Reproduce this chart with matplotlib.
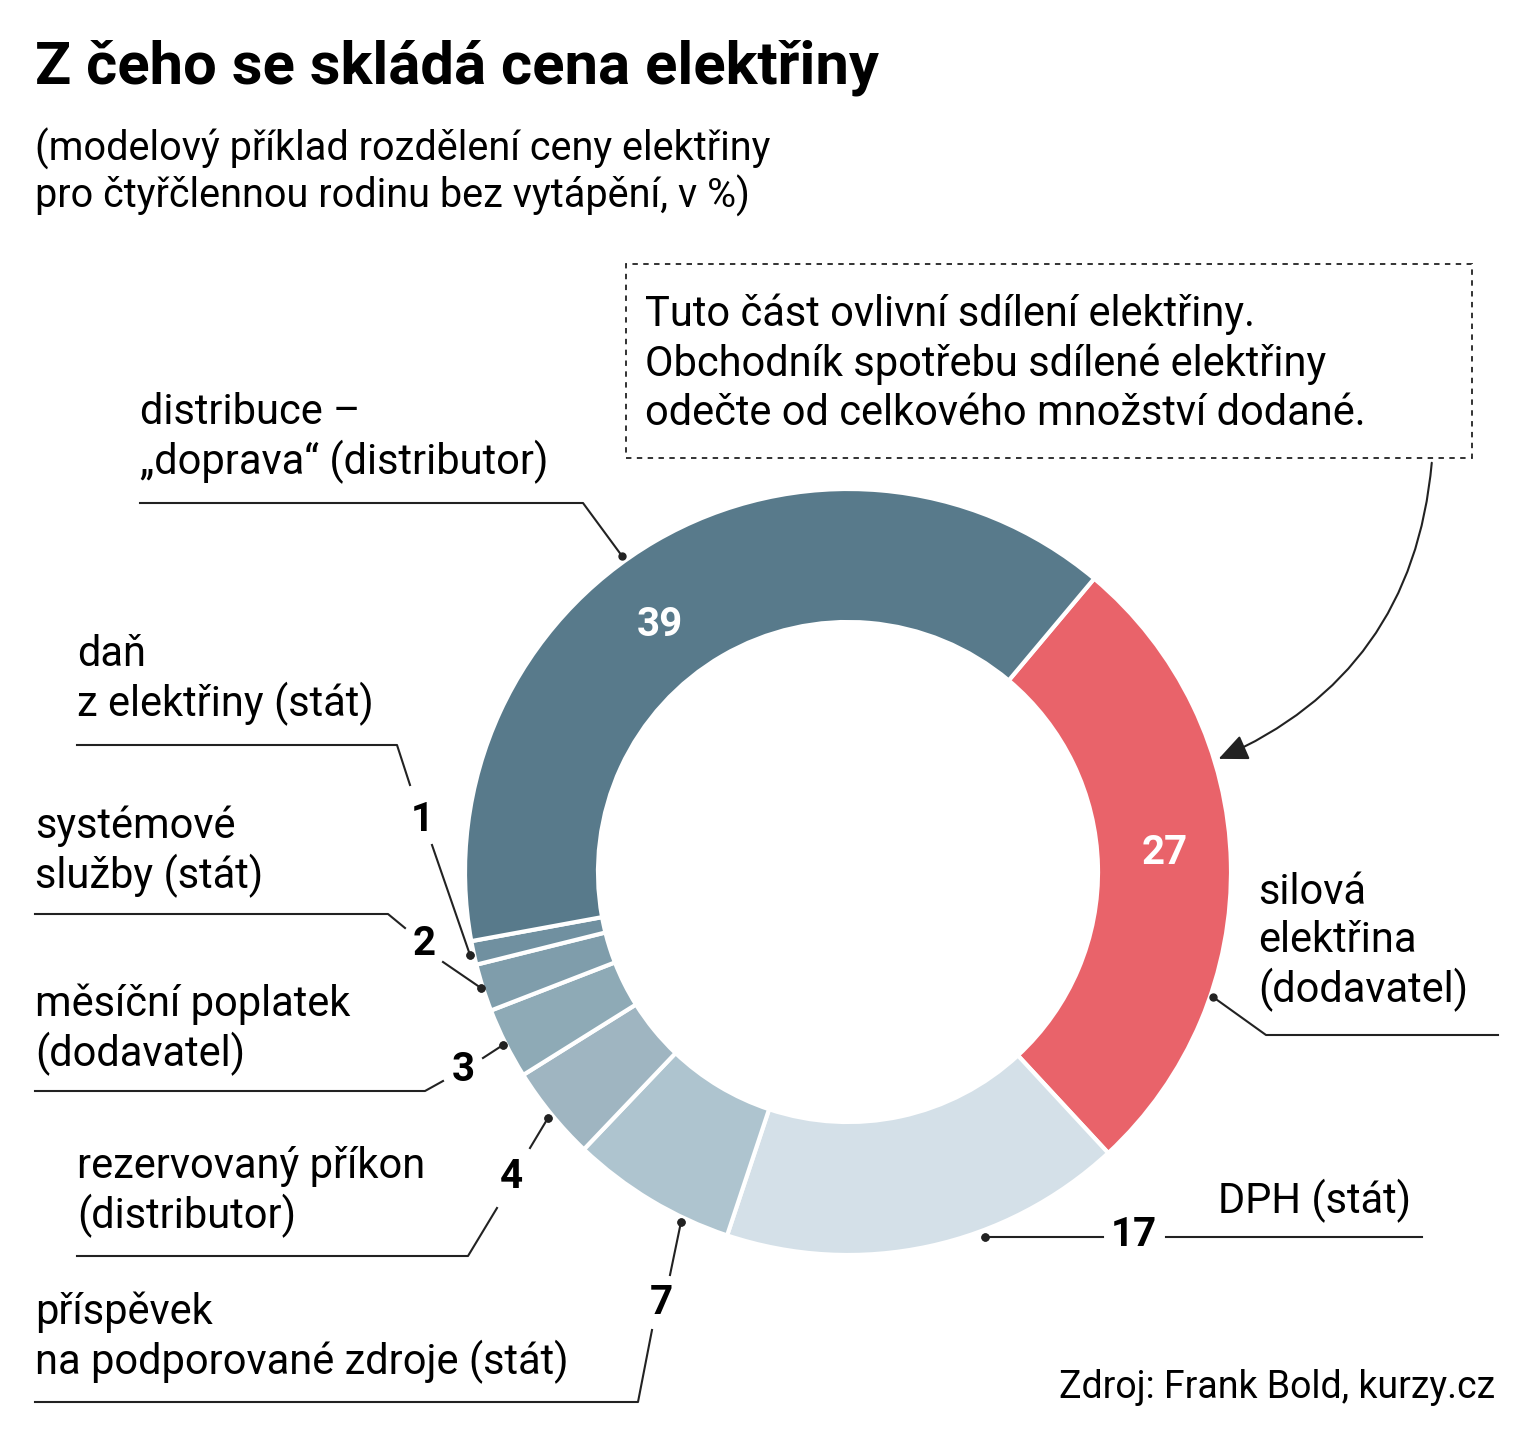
import matplotlib.pyplot as plt
from matplotlib.patches import FancyArrowPatch

plt.rcParams['font.family'] = ['Roboto', 'DejaVu Sans']

labels = ['silová elektřina', 'DPH', 'příspěvek na podporované zdroje',
          'rezervovaný příkon', 'měsíční poplatek', 'systémové služby',
          'daň z elektřiny', 'distribuce']
values = [27, 17, 7, 4, 3, 2, 1, 39]
colors = ['#e9636a', '#d4e0e8', '#aec4cf', '#9fb5c1', '#8eaab6',
          '#7f9dab', '#7090a0', '#587a8b']

W, H = 1536, 1443
fig = plt.figure(figsize=(W / 100, H / 100), dpi=100)
ax = fig.add_axes([0, 0, 1, 1])


def Y(y):
    return H - y


cx, cy, R = 848, 872, 383
ax.pie(values, colors=colors, startangle=50, counterclock=False,
       center=(cx, Y(cy)), radius=R, frame=True,
       wedgeprops=dict(width=133, edgecolor='white', linewidth=3))
ax.set_xlim(0, W)
ax.set_ylim(0, H)
ax.set_aspect('equal')
ax.axis('off')

ax.text(35, Y(68), 'Z čeho se skládá cena elektřiny', fontsize=43,
        fontweight='bold', va='center', ha='left')
ax.text(35, Y(172), '(modelový příklad rozdělení ceny elektřiny\n'
        'pro čtyřčlennou rodinu bez vytápění, v %)', fontsize=28.5,
        va='center', ha='left', linespacing=1.15)

# inner value labels
ax.text(660, Y(625), str(values[7]), fontsize=29, fontweight='bold',
        color='white', ha='center', va='center')
ax.text(1165, Y(853), str(values[0]), fontsize=29, fontweight='bold',
        color='white', ha='center', va='center')

body = dict(fontsize=30, va='center', ha='left', linespacing=1.2)
num = dict(fontsize=29, fontweight='bold', ha='center', va='center')


def leader(points, dot):
    xs = [p[0] for p in points]
    ys = [Y(p[1]) for p in points]
    ax.plot(xs, ys, color='#222222', lw=1.5)
    ax.plot(dot[0], Y(dot[1]), 'o', color='#222222', ms=5)


# distribuce
ax.text(140, Y(438), 'distribuce –\n„doprava“ (distributor)', **body)
leader([(140, 503), (583, 503), (622, 556)], (622, 556))
# dan
ax.text(77, Y(680), 'daň\nz elektřiny (stát)', **body)
leader([(77, 745), (397, 745), (410, 785)], (470, 955))
ax.text(422, Y(820), str(values[6]), **num)
leader([(432, 845), (470, 955)], (470, 955))
# systemove
ax.text(35, Y(852), 'systémové\nslužby (stát)', **body)
leader([(35, 914), (388, 914), (405, 928)], (481, 988))
ax.text(424, Y(944), str(values[5]), **num)
leader([(443, 962), (481, 988)], (481, 988))
# mesicni
ax.text(35, Y(1030), 'měsíční poplatek\n(dodavatel)', **body)
leader([(35, 1091), (425, 1091), (443, 1081)], (503, 1045))
ax.text(463, Y(1070), str(values[4]), **num)
leader([(483, 1058), (503, 1045)], (503, 1045))
# rezervovany
ax.text(77, Y(1192), 'rezervovaný příkon\n(distributor)', **body)
leader([(77, 1256), (468, 1256), (497, 1208)], (548, 1118))
ax.text(511, Y(1177), str(values[3]), **num)
leader([(530, 1148), (548, 1118)], (548, 1118))
# prispevek
ax.text(35, Y(1338), 'příspěvek\nna podporované zdroje (stát)', **body)
leader([(35, 1402), (638, 1402), (652, 1330)], (681, 1222))
ax.text(661, Y(1303), str(values[2]), **num)
leader([(670, 1275), (681, 1222)], (681, 1222))
# DPH
ax.text(1218, Y(1201), 'DPH (stát)', **body)
leader([(985, 1237), (1103, 1237)], (985, 1237))
ax.text(1134, Y(1235), str(values[1]), **num)
leader([(1166, 1237), (1422, 1237)], (985, 1237))
# silova
ax.text(1258, Y(942), 'silová\nelektřina\n(dodavatel)', **body)
leader([(1213, 997), (1266, 1035), (1498, 1035)], (1213, 997))

# note box
ax.text(645, Y(364), 'Tuto část ovlivní sdílení elektřiny.\n'
        'Obchodník spotřebu sdílené elektřiny\n'
        'odečte od celkového množství dodané.', fontsize=30,
        va='center', ha='left', linespacing=1.25)
ax.add_patch(plt.Rectangle((626, Y(458)), 846, 194, fill=False,
                           ls=(0, (3, 3)), lw=1.3, ec='#222222'))
ax.add_patch(FancyArrowPatch((1432, Y(460)), (1216, Y(760)),
                             connectionstyle='arc3,rad=-0.3',
                             arrowstyle='-|>,head_length=18,head_width=8',
                             color='#222222', lw=1.5))

ax.text(1495, Y(1387), 'Zdroj: Frank Bold, kurzy.cz', fontsize=27,
        ha='right', va='center')

fig.savefig('out.png', dpi=100, facecolor='white')
